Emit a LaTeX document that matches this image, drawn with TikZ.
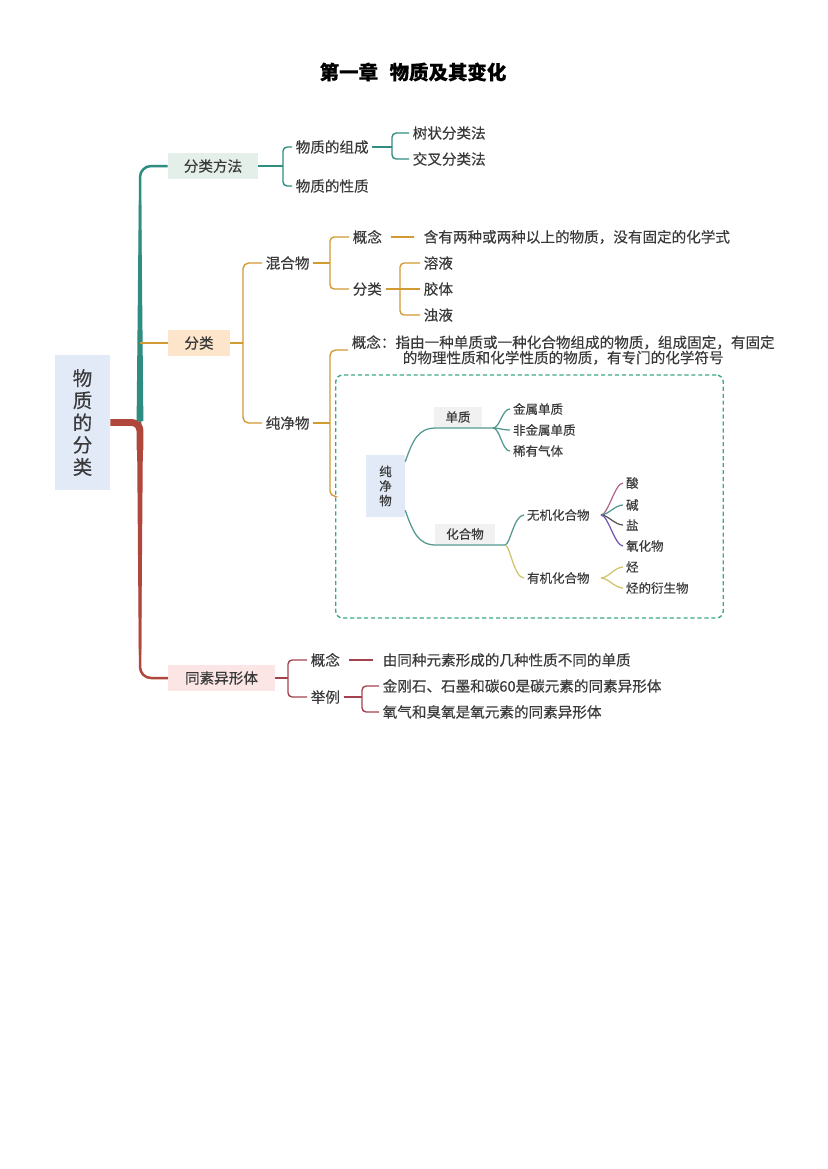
\documentclass[tikz,border=0pt]{standalone}
\usepackage{fontspec}
\setmainfont{Noto Sans CJK SC}[FakeBold=0.35]
\usetikzlibrary{positioning}

\definecolor{txtgray}{HTML}{3A3A3A}
\definecolor{tealc}{HTML}{2F8C80}
\definecolor{redc}{HTML}{B0473C}
\definecolor{orangec}{HTML}{D29A32}
\definecolor{wine}{HTML}{A3424E}
\definecolor{innerc}{HTML}{52978F}
\definecolor{dashc}{HTML}{3DA888}
\definecolor{greenbox}{HTML}{E5EFEA}
\definecolor{orangebox}{HTML}{FCE5CB}
\definecolor{pinkbox}{HTML}{FBE5E5}
\definecolor{bluebox}{HTML}{E2EAF8}
\definecolor{graybox}{HTML}{F1F1F1}
\definecolor{acidc}{HTML}{B0668E}
\definecolor{saltc}{HTML}{555555}
\definecolor{oxidc}{HTML}{7556B5}
\definecolor{orgc}{HTML}{CFC46A}

\tikzset{
	txt/.style={text=txtgray, font=\fontsize{10.5}{11}\selectfont, inner sep=2.5pt},
	small/.style={text=txtgray, font=\fontsize{9}{10}\selectfont, inner sep=2pt},
	topic/.style={fill=#1, text=txtgray, minimum height=18.5pt, inner sep=0pt,
		font=\fontsize{10.5}{11}\selectfont},
	tealline/.style={tealc, line width=1pt},
	orline/.style={orangec, line width=1pt},
	wineline/.style={wine, line width=1pt},
	fanline/.style={innerc, line width=0.9pt},
}

\begin{document}
\begin{tikzpicture}[x=0.72pt, y=-0.72pt]
	\useasboundingbox (0,0) rectangle (827,1169);

	\node [font=\fontsize{14}{16}\selectfont\bfseries] (title) at (413,72) {第一章\hspace{0.6em}物质及其变化};

	% root
	\node [fill=bluebox, text=txtgray, minimum width=39.6pt, minimum height=97pt, inner sep=0pt,
		align=center, font=\fontsize{14}{16}\selectfont] (root) at (82.5,422.5) {物\\质\\的\\分\\类};

	% level 1
	\node [topic=greenbox, minimum width=65pt] (ffff) at (213,166) {分类方法};
	\node [topic=orangebox, minimum width=44.6pt] (fl) at (199,343) {分类};
	\node [topic=pinkbox, minimum width=77pt] (tsy) at (221.5,678) {同素异形体};

	\coordinate (j) at (140,422);
	\draw [redc, line width=5pt, rounded corners=6pt] (root.east) -| (140,450);		% dicker Ast
	\fill [redc] (137,430) -- (143,430) -- (141.2,655) -- (138.8,655) -- cycle;
	\draw [redc, line width=1.8pt, rounded corners=8pt] (j) |- (tsy.west);
	\fill [tealc] (136.6,421) -- (143.4,421) -- (141.2,200) -- (138.8,200) -- cycle;
	\draw [tealc, line width=1.8pt, rounded corners=8pt] (j) |- (ffff.west);
	\draw [orline, line width=1.4pt] (fl.west -| j) -- (fl.west);

	% 分类方法
	\node [txt, right] (zc) at (292,147) {物质的组成};
	\node [txt, right] (xz) at (292,186) {物质的性质};
	\coordinate (b1) at (283,166);
	\draw [tealline] (ffff.east) -- (b1);
	\draw [tealline, rounded corners=3pt] (zc.west) -| (b1) |- (xz.west);
	\node [txt, right] (szf) at (409,133) {树状分类法};
	\node [txt, right] (jcf) at (409,159) {交叉分类法};
	\coordinate (b2) at (392,147);
	\draw [tealline] (zc.east) -- (b2);
	\draw [tealline, rounded corners=3pt] (szf.west) -| (b2) |- (jcf.west);

	% 分类
	\node [txt, right] (hhw) at (262,263) {混合物};
	\node [txt, right] (cjw) at (262,423) {纯净物};
	\coordinate (b3) at (243,343);
	\draw [orline] (fl.east) -- (b3);
	\draw [orline, rounded corners=4pt] (hhw.west) -| (b3) |- (cjw.west);

	\node [txt, right] (gn1) at (349,237) {概念};
	\node [txt, right] (fl2) at (349,289) {分类};
	\coordinate (b4) at (330,263);
	\draw [orline] (hhw.east) -- (b4);
	\draw [orline, rounded corners=3pt] (gn1.west) -| (b4) |- (fl2.west);
	\node [txt, right] (hhdef) at (420,237) {含有两种或两种以上的物质，没有固定的化学式};
	\draw [orline, shorten <=4pt, shorten >=4pt] (gn1.east) -- (hhdef.west);

	\node [txt, right] (ry) at (420,263) {溶液};
	\node [txt, right] (jt) at (420,289) {胶体};
	\node [txt, right] (zy) at (420,315) {浊液};
	\draw [orline] (fl2.east) -- (jt.west);
	\draw [orline, rounded corners=3pt] (ry.west) -| (400,289) |- (zy.west);

	\node [txt, right, align=center, font=\fontsize{10.5}{11}\selectfont] (cjdef) at (348,350)
		{概念：指由一种单质或一种化合物组成的物质，组成固定，有固定\\的物理性质和化学性质的物质，有专门的化学符号};
	\node [draw=dashc, dashed, line width=1pt, dash pattern=on 3pt off 2pt, rounded corners=5pt,
		minimum width=279pt, minimum height=175pt, inner sep=0pt] (frame) at (529.5,496.5) {};
	\coordinate (b6) at (330,423);
	\draw [orline] (cjw.east) -- (b6);
	\draw [orline, rounded corners=4pt] (cjdef.west) -| (b6) |- (frame.west);

	% Bild im Rahmen
	\node [fill=bluebox, text=txtgray, minimum width=28pt, minimum height=44.6pt, inner sep=0pt,
		align=center, font=\fontsize{9}{10.5}\selectfont] (pure) at (385.5,486) {纯\\净\\物};
	\node [small, fill=graybox, minimum width=34pt, minimum height=15pt] (dz) at (458,417) {单质};
	\node [small, fill=graybox, minimum width=43pt, minimum height=15pt] (hhw2) at (465,534) {化合物};
	\coordinate (dzf) at (493,428);
	\coordinate (hhf) at (505,545);
	\draw [fanline] ([yshift=-5pt]pure.north east) .. controls (413,440) and (418,428) .. (436,428) -- (dzf);
	\draw [fanline] ([yshift=5pt]pure.south east) .. controls (413,532) and (418,545) .. (436,545) -- (hhf);

	\node [small, right] (jsdz) at (510,409) {金属单质};
	\node [small, right] (fjs) at (510,430) {非金属单质};
	\node [small, right] (xy) at (510,451) {稀有气体};
	\foreach \n in {jsdz, fjs, xy}
		\draw [fanline] (dzf) .. controls +(7,0) and +(-8,0) .. (\n.west);

	\node [small, right] (wj) at (524,515) {无机化合物};
	\node [small, right] (yj) at (524,578) {有机化合物};
	\draw [fanline] (hhf) .. controls +(5,0) and +(-10,0) .. (wj.west);
	\draw [orgc, line width=0.9pt] (hhf) .. controls +(5,0) and +(-10,0) .. (yj.west);

	\coordinate (wjf) at (601,515);
	\coordinate (yjf) at (601,578);
	\node [small, right] (suan) at (623,483) {酸};
	\node [small, right] (jian) at (623,505) {碱};
	\node [small, right] (yan) at (623,525) {盐};
	\node [small, right] (yhw) at (623,546) {氧化物};
	\draw [acidc, line width=0.9pt] (wjf) .. controls +(7,0) and +(-8,0) .. (suan.west);
	\draw [innerc, line width=0.9pt] (wjf) .. controls +(7,0) and +(-8,0) .. (jian.west);
	\draw [saltc, line width=0.9pt] (wjf) .. controls +(7,0) and +(-8,0) .. (yan.west);
	\draw [oxidc, line width=0.9pt] (wjf) .. controls +(7,0) and +(-8,0) .. (yhw.west);
	\node [small, right] (ting) at (623,567) {烃};
	\node [small, right] (tys) at (623,588) {烃的衍生物};
	\draw [orgc, line width=0.9pt] (yjf) .. controls +(7,0) and +(-8,0) .. (ting.west);
	\draw [orgc, line width=0.9pt] (yjf) .. controls +(7,0) and +(-8,0) .. (tys.west);

	% 同素异形体
	\node [txt, right] (gn2) at (307,660) {概念};
	\node [txt, right] (jl) at (307,697) {举例};
	\coordinate (b7) at (288,678);
	\draw [wineline] (tsy.east) -- (b7);
	\draw [wineline, rounded corners=3pt] (gn2.west) -| (b7) |- (jl.west);
	\node [txt, right] (tsdef) at (379,660) {由同种元素形成的几种性质不同的单质};
	\draw [wineline, shorten <=4pt, shorten >=4pt] (gn2.east) -- (tsdef.west);
	\node [txt, right] (ex1) at (379,686) {金刚石、石墨和碳60是碳元素的同素异形体};
	\node [txt, right] (ex2) at (379,712) {氧气和臭氧是氧元素的同素异形体};
	\coordinate (b8) at (jl.east -| 362,0);
	\draw [wineline] (jl.east) -- (b8);
	\draw [wineline, rounded corners=3pt] (ex1.west) -| (b8) |- (ex2.west);

\end{tikzpicture}
\end{document}
